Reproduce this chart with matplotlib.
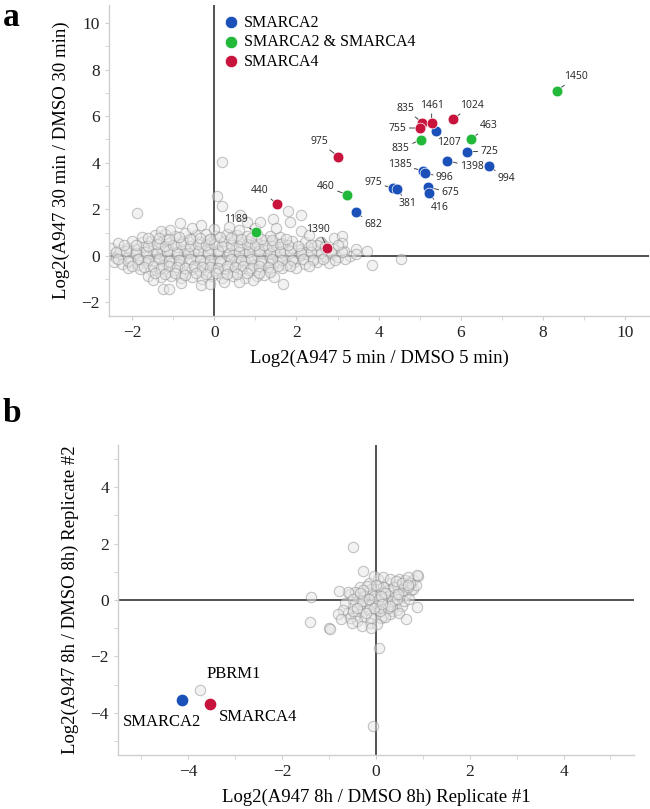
import numpy as np
import matplotlib
matplotlib.use('Agg')
import matplotlib.pyplot as plt
from matplotlib.ticker import MultipleLocator

plt.rcParams['font.family'] = ['Liberation Serif', 'DejaVu Serif']

# ---------------- panel a data ----------------
# highlighted peptides (5 min vs 30 min)
blue_ids = ['1207', '725', '1398', '994', '1385', '996', '975', '381', '675', '416', '682']
blue_x = [5.39, 6.16, 5.66, 6.68, 5.07, 5.12, 4.36, 4.45, 5.21, 5.22, 3.44]
blue_y = [5.38, 4.48, 4.09, 3.85, 3.66, 3.55, 2.90, 2.89, 2.96, 2.72, 1.87]

green_ids = ['1450', '835', '463', '460', '1189']
green_x = [8.33, 5.03, 6.26, 3.23, 1.01]
green_y = [7.08, 4.99, 5.03, 2.63, 1.03]

red_ids = ['835', '1461', '1024', '755', '975', '440', '1390']
red_x = [5.06, 5.29, 5.82, 5.00, 3.02, 1.53, 2.75]
red_y = [5.72, 5.72, 5.89, 5.49, 4.26, 2.24, 0.36]

# background peptides
bg_a_x = [
    -2.55, -2.4, -2.25, -2.1, -1.95, -1.8, -1.65, -1.5, -1.35, -1.2, -1.05, -0.9, -0.75, -0.6, -0.45, -0.3,
    -0.15, 0.0, 0.15, 0.3, 0.45, 0.6, 0.75, 0.9, 1.05, 1.2, 1.35, 1.5, 1.65, 1.8, 1.95, 2.1, 2.25, 2.4,
    2.55, 2.7, 2.85, 3.0, 3.3,
    -2.5, -2.3, -2.1, -1.9, -1.7, -1.5, -1.3, -1.1, -0.9, -0.7, -0.5, -0.3, -0.1, 0.1, 0.3, 0.5, 0.7, 0.9,
    1.1, 1.3, 1.5, 1.7, 1.9, 2.1, 2.3, 2.5, 2.7, 2.9, 3.15, 3.45,
    -2.45, -2.25, -2.05, -1.85, -1.65, -1.45, -1.25, -1.05, -0.85, -0.65, -0.45, -0.25, -0.05, 0.15, 0.35,
    0.55, 0.75, 0.95, 1.15, 1.35, 1.55, 1.75, 1.95, 2.2, 2.5, 2.8,
    -2.35, -2.0, -1.75, -1.55, -1.35, -1.15, -0.95, -0.75, -0.55, -0.35, -0.15, 0.05, 0.25, 0.45, 0.65,
    0.85, 1.05, 1.25, 1.45, 1.65, 1.9, 2.2, 2.6,
    -2.1, -1.8, -1.55, -1.35, -1.15, -0.95, -0.75, -0.55, -0.35, -0.15, 0.05, 0.25, 0.45, 0.65, 0.85,
    1.1, 1.35, 1.65, 2.0,
    -1.75, -1.45, -1.2, -0.95, -0.7, -0.45, -0.2, 0.05, 0.3, 0.55, 0.8, 1.05, 1.35, 1.6,
    -1.6, -1.3, -1.05, -0.8, -0.55, -0.3, -0.05, 0.2, 0.45, 0.75, 1.05, 1.45,
    -1.08, -0.83, -0.55, -0.31, 0.0, 0.35, 0.79, 1.0, -1.3, 0.6,
    -1.25, -1.09, -0.8, -0.32, -0.1, 0.25, 0.61, 1.2, 1.68, -1.5, 0.95,
    -1.88, 0.18, 0.07, 0.2, 0.63, 1.11, 1.44, 1.79, 1.84, 2.1, 2.11, 2.57, 2.92, 3.12, 3.1, 3.45, 3.71,
    3.85, 4.54, 3.18, 2.49, 2.3, 1.5,
    -2.4, -2.15, -1.9, -1.65, -1.4, -1.15, -0.9, -0.65, -0.4, -0.15, 0.1, 0.35, 0.6, 0.85, 1.1, 1.35, 1.6,
    1.85, 2.1, 2.35, 2.6, 2.85, 3.1,
    -2.35, -2.1, -1.85, -1.6, -1.35, -1.1, -0.85, -0.6, -0.35, -0.1, 0.15, 0.4, 0.65, 0.9, 1.15, 1.4, 1.65,
    1.9, 2.15, 2.4, 2.65, 2.95,
    -2.2, -1.9, -1.6, -1.4, -1.2, -1.0, -0.8, -0.6, -0.4, -0.2, 0.0, 0.2, 0.4, 0.6, 0.8, 1.0, 1.2, 1.4,
    1.6, 1.8, 2.05, 2.35, 2.7, 3.0,
    -2.0, -1.7, -1.5, -1.3, -1.1, -0.9, -0.7, -0.5, -0.3, -0.1, 0.1, 0.3, 0.5, 0.7, 0.9, 1.1, 1.3, 1.55,
    1.85, 2.3,
    -1.6, -1.35, -1.1, -0.85, -0.6, -0.35, -0.1, 0.15, 0.4, 0.65, 0.9, 1.15, 1.4, 1.75,
    -1.45, -1.2, -0.95, -0.7, -0.45, -0.2, 0.05, 0.3, 0.55, 0.8, 1.1, 1.35,
]
bg_a_y = [
    0.05, -0.08, 0.1, -0.04, 0.07, -0.11, 0.02, 0.09, -0.06, 0.04, -0.1, 0.08, -0.03, 0.11, -0.07, 0.01,
    0.06, -0.09, 0.1, -0.02, 0.05, -0.08, 0.09, -0.05, 0.03, 0.1, -0.1, 0.04, -0.04, 0.08, -0.07, 0.02,
    0.09, -0.12, 0.06, -0.03, 0.1, -0.06, 0.0,
    0.32, 0.25, 0.36, 0.28, 0.4, 0.3, 0.35, 0.24, 0.38, 0.3, 0.27, 0.4, 0.33, 0.26, 0.37, 0.29, 0.35, 0.42,
    0.28, 0.33, 0.38, 0.25, 0.36, 0.3, 0.4, 0.27, 0.35, 0.31, 0.22, 0.3,
    -0.28, -0.35, -0.25, -0.38, -0.3, -0.27, -0.4, -0.32, -0.36, -0.25, -0.42, -0.3, -0.35, -0.28, -0.4,
    -0.33, -0.26, -0.37, -0.3, -0.34, -0.28, -0.38, -0.25, -0.33, -0.27, -0.3,
    0.55, 0.62, 0.58, 0.66, 0.6, 0.7, 0.56, 0.64, 0.72, 0.6, 0.68, 0.57, 0.65, 0.7, 0.59,
    0.63, 0.55, 0.68, 0.6, 0.57, 0.62, 0.58, 0.6,
    -0.5, -0.58, -0.62, -0.55, -0.68, -0.6, -0.72, -0.57, -0.65, -0.7, -0.6, -0.55, -0.66, -0.58, -0.62,
    -0.55, -0.6, -0.52, -0.5,
    0.82, 0.9, 0.95, 0.85, 0.98, 0.88, 0.92, 0.84, 0.96, 0.9, 0.86, 0.93, 0.85, 0.8,
    -0.85, -0.92, -0.88, -0.96, -0.9, -0.98, -0.86, -0.93, -0.88, -0.95, -0.85, -0.9,
    1.12, 1.43, 1.2, 1.33, 1.15, 1.22, 1.47, 1.2, 1.05, 1.1,
    -1.4, -1.4, -1.15, -1.24, -1.22, -1.1, -1.1, -0.82, -1.2, -1.05, -1.05,
    1.83, 4.05, 2.57, 2.15, 1.76, 1.46, 1.57, 1.93, 1.47, 1.75, 1.07, 0.6, 0.76, 0.86, 0.55, 0.06, 0.21,
    -0.39, -0.13, -0.13, 0.47, 0.9, 1.2,
    0.15, 0.2, 0.12, 0.18, 0.14, 0.22, 0.16, 0.13, 0.19, 0.17, 0.21, 0.12, 0.18, 0.15, 0.2, 0.13, 0.17,
    0.19, 0.14, 0.16, 0.12, 0.18, 0.15,
    -0.15, -0.2, -0.12, -0.18, -0.14, -0.22, -0.16, -0.13, -0.19, -0.17, -0.21, -0.12, -0.18, -0.15, -0.2,
    -0.13, -0.17, -0.19, -0.14, -0.16, -0.12, -0.18,
    0.45, 0.48, 0.42, 0.5, 0.44, 0.47, 0.52, 0.43, 0.49, 0.46, 0.5, 0.44, 0.48, 0.42, 0.51, 0.45, 0.47, 0.43,
    0.49, 0.46, 0.44, 0.48, 0.42, 0.45,
    -0.45, -0.48, -0.42, -0.5, -0.44, -0.47, -0.52, -0.43, -0.49, -0.46, -0.5, -0.44, -0.48, -0.42, -0.51,
    -0.45, -0.47, -0.43, -0.45, -0.42,
    0.75, 0.78, 0.72, 0.8, 0.74, 0.77, 0.73, 0.79, 0.76, 0.72, 0.78, 0.74, 0.7, 0.73,
    -0.75, -0.78, -0.72, -0.8, -0.74, -0.77, -0.73, -0.79, -0.76, -0.72, -0.75, -0.7,
]

# ---------------- panel b data ----------------
bg_b_x = [-0.5, -0.4, -0.3, -0.2, -0.1, 0.0, 0.1, 0.2, 0.3, 0.4, 0.5, -0.35, -0.25, -0.15, -0.05, 0.05,
          0.15, 0.25, 0.35, 0.45, 0.55, 0.6, 0.65, 0.7, 0.75, -0.6, -0.55, -0.45, -0.65, -0.7, -0.2, -0.1,
          0.0, 0.1, 0.2, 0.3, 0.4, -0.3, 0.05, -0.05, 0.15, 0.3, 0.5, 0.62, 0.78, 0.45, 0.3, 0.55, 0.1,
          -0.12, 0.02, -0.4, -0.55, 0.2, -0.25, -0.45, 0.35, 0.6, 0.7, 0.8, 0.85, -0.8, -0.5, -0.35, -0.15,
          0.12, 0.25, 0.45, -0.05, 0.08, -0.6, 0.9,
          -0.3, -0.2, 0.05, 0.15, -0.15, 0.25, 0.38, 0.5, -0.4, 0.0, 0.2, -0.1, 0.58, 0.68, 0.42, -0.28,
          -0.5, 0.1, -0.05, 0.3, 0.72, 0.55, -0.22, 0.12, -0.35, 0.48,
          -0.48, -0.27, -1.38, -0.78, -1.41, -1.01, -0.97, 0.07, 0.87, 0.87, 0.64, 0.69, 0.69, -0.75,
          -0.51, -0.3, -0.11, -0.07, -3.75]
bg_b_y = [-0.2, 0.1, -0.4, 0.3, -0.1, 0.2, -0.3, 0.1, 0.4, -0.1, 0.3, 0.45, -0.6, 0.6, -0.5, 0.5,
          -0.55, 0.6, -0.4, 0.55, 0.1, 0.5, 0.2, 0.65, 0.35, -0.45, 0.2, -0.55, -0.1, -0.35, -0.2, 0.4,
          -0.2, 0.3, -0.1, 0.15, 0.2, 0.1, 0.75, 0.85, 0.8, 0.75, 0.75, 0.72, 0.7, -0.35, -0.5, -0.2, -0.65,
          -0.8, -0.85, -0.75, -0.65, -0.6, 0.15, 0.3, -0.05, -0.05, 0.05, 0.4, 0.55, -0.5, -0.4, -0.15, -0.35,
          0.05, 0.35, 0.05, 0.15, -0.4, 0.3, 0.85,
          -0.05, 0.5, 0.0, 0.45, 0.05, -0.3, 0.45, -0.45, -0.3, 0.55, 0.25, -0.65, 0.35, 0.45, 0.68, 0.35,
          0.05, 0.15, -0.3, -0.2, 0.6, 0.6, -0.45, -0.15, 0.25, 0.2,
          1.89, 1.03, 0.12, 0.32, -0.77, -0.98, -1.02, -1.71, 0.89, -0.26, -0.69, 0.83, 0.53, -0.67,
          -0.83, -0.92, -1.0, -4.48, -3.2]

b_names = ['SMARCA2', 'SMARCA4', 'PBRM1']
b_x = [-4.14, -3.54, -3.75]
b_y = [-3.55, -3.70, -3.20]

# label offsets (pixels) for panel a annotations
blue_off = [(13, -12), (22, 0), (25, -6), (18, -12), (-23, 6), (20, -4), (-20, 6), (10, -15), (22, -6),
            (11, -15), (18, -12)]
green_off = [(19, 14), (-20, -9), (17, 13), (-21, 8), (-20, 12)]
red_off = [(-17, 14), (0, 17), (18, 13), (-22, 0), (-19, 15), (-17, 13), (-9, 18)]

c_blue = '#1a50b8'
c_green = '#22b83a'
c_red = '#c8143c'
bg_face = (0.9, 0.9, 0.9, 0.5)
bg_edge = (0.55, 0.55, 0.55, 0.5)


def style_axes(ax):
    for s in ['top', 'right']:
        ax.spines[s].set_visible(False)
    for s in ['left', 'bottom']:
        ax.spines[s].set_color('#cfcfcf')
        ax.spines[s].set_linewidth(1.0)
    ax.xaxis.set_major_locator(MultipleLocator(2))
    ax.xaxis.set_minor_locator(MultipleLocator(1))
    ax.yaxis.set_major_locator(MultipleLocator(2))
    ax.yaxis.set_minor_locator(MultipleLocator(1))
    ax.tick_params(which='both', direction='out', length=3, color='#cfcfcf', labelsize=12.5,
                   labelcolor='#222222')
    ax.axhline(0, color='#333333', lw=1.2, zorder=1)
    ax.axvline(0, color='#333333', lw=1.2, zorder=1)


fig = plt.figure(figsize=(6.5, 8.09), dpi=100)

# ---------------- panel a ----------------
ax1 = fig.add_axes([0.1677, 0.6094, 0.8308, 0.3844])
style_axes(ax1)
ax1.scatter(bg_a_x, bg_a_y, s=56, facecolor=bg_face, edgecolor=bg_edge, linewidth=0.8, zorder=2)

groups = [('SMARCA2', c_blue, blue_ids, blue_x, blue_y, blue_off),
          ('SMARCA2 & SMARCA4', c_green, green_ids, green_x, green_y, green_off),
          ('SMARCA4', c_red, red_ids, red_x, red_y, red_off)]
for name, col, ids, xs, ys, offs in groups:
    ax1.scatter(xs, ys, s=60, color=col, edgecolor='white', linewidth=0.5, zorder=4, label=name)
    for t, x, y, (dx, dy) in zip(ids, xs, ys, offs):
        ax1.annotate(t, xy=(x, y), xytext=(dx, dy), textcoords='offset pixels',
                     ha='center', va='center', fontsize=7.5, family='Open Sans', color='#222222',
                     arrowprops=dict(arrowstyle='-', color='#444444', lw=0.7, shrinkA=0, shrinkB=2),
                     zorder=3)

ax1.set_xlim(-2.56, 10.58)
ax1.set_ylim(-2.58, 10.77)
ax1.set_xlabel('Log2(A947 5 min / DMSO 5 min)', fontsize=13.5, labelpad=6)
ax1.set_ylabel('Log2(A947 30 min / DMSO 30 min)', fontsize=13.5, labelpad=8)
ax1.legend(loc='upper left', bbox_to_anchor=(0.19, 1.0), frameon=False, fontsize=11.5,
           handletextpad=0.2, handlelength=1.2, labelspacing=0.22, borderaxespad=0.2,
           markerscale=1.15)

# ---------------- panel b ----------------
ax2 = fig.add_axes([0.1815, 0.0667, 0.7938, 0.3832])
style_axes(ax2)
ax2.scatter(bg_b_x, bg_b_y, s=56, facecolor=bg_face, edgecolor=bg_edge, linewidth=0.8, zorder=2)
ax2.scatter(b_x[0], b_y[0], s=55, color=c_blue, zorder=4)
ax2.scatter(b_x[1], b_y[1], s=55, color=c_red, zorder=4)
ax2.text(-4.56, -4.31, b_names[0], ha='center', va='center', fontsize=12)
ax2.text(-2.51, -4.16, b_names[1], ha='center', va='center', fontsize=12)
ax2.text(-3.03, -2.63, b_names[2], ha='center', va='center', fontsize=12)
ax2.set_xlim(-5.5, 5.5)
ax2.set_ylim(-5.5, 5.5)
ax2.set_xlabel('Log2(A947 8h / DMSO 8h) Replicate #1', fontsize=13.5, labelpad=6)
ax2.set_ylabel('Log2(A947 8h / DMSO 8h) Replicate #2', fontsize=13.5, labelpad=8)

fig.text(0.004, 0.997, 'a', fontsize=24, fontweight='bold', va='top', ha='left')
fig.text(0.004, 0.508, 'b', fontsize=24, fontweight='bold', va='top', ha='left')

fig.savefig('out.png', dpi=100)
